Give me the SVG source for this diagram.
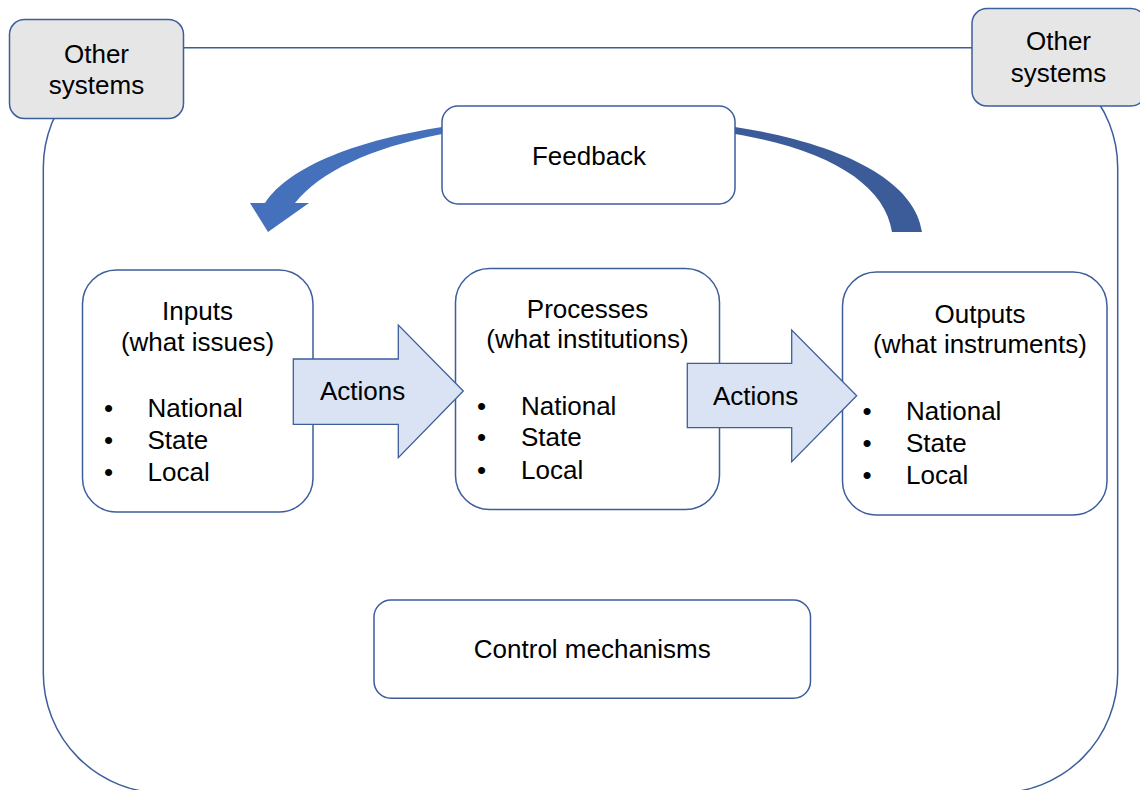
<svg xmlns="http://www.w3.org/2000/svg" width="1140" height="790" viewBox="0 0 1140 790">
<style>
.box{fill:#ffffff;stroke:#3d5e9c;stroke-width:1.5}
.gray{fill:#e7e6e6;stroke:#3d5e9c;stroke-width:1.5}
.act{fill:#dae3f3;stroke:#3d5e9c;stroke-width:1.3}
text{font-family:"Liberation Sans",Arial,sans-serif;font-size:26px;fill:#000}
.c{text-anchor:middle}
</style>
<rect width="1140" height="790" fill="#ffffff"/>
<g id="frame">
<rect x="43.3" y="47.7" width="1074.4" height="745.3" rx="120" ry="120" fill="none" stroke="#3d5e9c" stroke-width="1.5"/>
</g>
<g id="connectors">
<path d="M735,127 C840,143 915,180 922,232 L892,232 C885,185 830,150 735,134 Z" fill="#3b5c99"/>
<path d="M442,127 C360,140 290,165 265,203 L250,203 L268,232 L309,203 L295,203 C320,172 370,148 442,134 Z" fill="#4570bb"/>
</g>
<g id="other-left">
<rect class="gray" x="9.5" y="19.5" width="174" height="99" rx="15"/>
<text class="c" x="96.5" y="63">Other</text>
<text class="c" x="96.5" y="94">systems</text>
</g>
<g id="other-right">
<rect class="gray" x="972" y="8.5" width="174" height="97.5" rx="15"/>
<text class="c" x="1058.5" y="50">Other</text>
<text class="c" x="1058.5" y="81.5">systems</text>
</g>
<g id="feedback">
<rect class="box" x="442" y="106" width="293" height="98" rx="16"/>
<text class="c" x="589" y="165">Feedback</text>
</g>
<g id="inputs">
<rect class="box" x="82.5" y="270" width="230.5" height="242" rx="34"/>
<text class="c" x="197.5" y="320">Inputs</text>
<text class="c" x="197.5" y="351">(what issues)</text>
<text x="104" y="417">•</text><text x="147.5" y="417">National</text>
<text x="104" y="449">•</text><text x="147.5" y="449">State</text>
<text x="104" y="481">•</text><text x="147.5" y="481">Local</text>
</g>
<g id="processes">
<rect class="box" x="455.5" y="268.5" width="264" height="241" rx="34"/>
<text class="c" x="587.5" y="317.5">Processes</text>
<text class="c" x="587.5" y="348">(what institutions)</text>
<text x="477" y="414.5">•</text><text x="521" y="414.5">National</text>
<text x="477" y="446">•</text><text x="521" y="446">State</text>
<text x="477" y="478.5">•</text><text x="521" y="478.5">Local</text>
</g>
<g id="outputs">
<rect class="box" x="842.5" y="272" width="264.5" height="243" rx="34"/>
<text class="c" x="980" y="322.5">Outputs</text>
<text class="c" x="980" y="353">(what instruments)</text>
<text x="862.5" y="420">•</text><text x="906" y="420">National</text>
<text x="862.5" y="451.5">•</text><text x="906" y="451.5">State</text>
<text x="862.5" y="484">•</text><text x="906" y="484">Local</text>
</g>
<g id="actions-1">
<path class="act" d="M293.3,359 L398.3,359 L398.3,325 L463.3,391 L398.3,457.7 L398.3,424.3 L293.3,424.3 Z"/>
<text x="320" y="400">Actions</text>
</g>
<g id="actions-2">
<path class="act" d="M687.3,363.3 L791.7,363.3 L791.7,330 L856.7,395.7 L791.7,461.7 L791.7,427.7 L687.3,427.7 Z"/>
<text x="713" y="405">Actions</text>
</g>
<g id="control">
<rect class="box" x="374" y="600" width="436.5" height="98.3" rx="17"/>
<text class="c" x="592.3" y="658.3">Control mechanisms</text>
</g>
</svg>
